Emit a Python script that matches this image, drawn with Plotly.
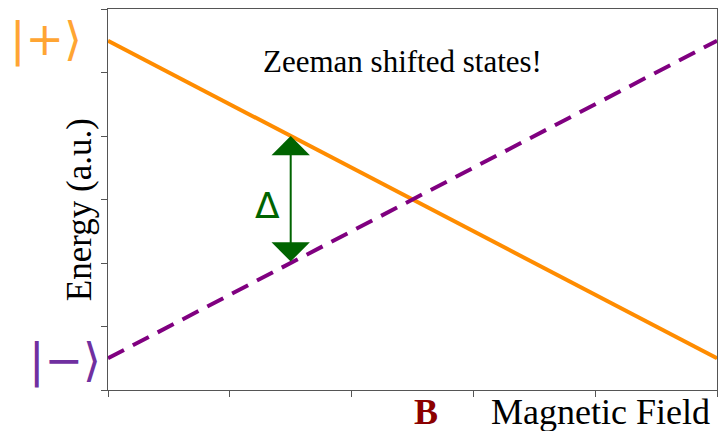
import plotly.graph_objects as go

# Field axis (arbitrary units) and the two Zeeman-shifted levels
field = [0, 5]
energy_plus = [5.5, 0.5]
energy_minus = [0.5, 5.5]

# Field value where the splitting is marked
field_delta = 1.5
delta_upper = 4.0
delta_lower = 2.0

x_ticks = [0, 1, 2, 3, 4, 5]
y_ticks = [0, 1, 2, 3, 4, 5, 6]

ORANGE = "#ff8c00"
PURPLE = "#800080"
GREEN = "#006400"
SERIF = "Liberation Serif, Times New Roman, serif"

fig = go.Figure()

fig.add_trace(go.Scatter(
    x=field, y=energy_plus, mode="lines",
    line=dict(color=ORANGE, width=4), hoverinfo="skip", showlegend=False,
))
fig.add_trace(go.Scatter(
    x=field, y=energy_minus, mode="lines",
    line=dict(color=PURPLE, width=4, dash="18px,10px"), hoverinfo="skip", showlegend=False,
))


def label(x, y, text, size, color, family=SERIF, ref="paper", angle=0):
    xr, yr = ("x", "y") if ref == "data" else ("paper", "paper")
    return dict(x=x, y=y, xref=xr, yref=yr, text=text, showarrow=False,
                xanchor="center", yanchor="middle", textangle=angle,
                font=dict(family=family, size=size, color=color))


annotations = [
    # double-headed splitting arrow
    dict(x=field_delta, y=delta_upper, ax=field_delta, ay=delta_lower,
         xref="x", yref="y", axref="x", ayref="y", text="",
         showarrow=True, arrowside="end+start",
         arrowhead=1, startarrowhead=1, arrowsize=3.2, startarrowsize=3.2,
         arrowwidth=2, arrowcolor=GREEN, standoff=0, startstandoff=0),
    label(1.31, 2.9, "Δ", 36, GREEN, family="DejaVu Sans", ref="data"),
    label(2.42, 5.18, "Zeeman shifted states!", 31, "black", ref="data"),
    label(0.808, -0.057, "Magnetic Field", 36, "black"),
    label(0.522, -0.057, "<b>B</b>", 36, "#8b0000"),
    label(-0.0476, 0.472, "Energy (a.u.)", 35, "black", angle=-90),
    label(-0.102, 0.919, "|+⟩", 46, "#ffa533", family="DejaVu Sans"),
    label(-0.0706, 0.0787, "|−⟩", 46, "#7030a0", family="DejaVu Sans"),
]

axis_style = dict(
    showgrid=False, zeroline=False, showticklabels=False,
    ticks="outside", ticklen=6, tickwidth=1.3, tickcolor="#555555",
    showline=True, linecolor="#555555", linewidth=1.3, mirror=True,
)

fig.update_layout(
    width=721, height=431,
    margin=dict(l=108, r=4, t=9, b=41),
    paper_bgcolor="white", plot_bgcolor="white",
    xaxis=dict(range=[0, 5], tickvals=x_ticks, **axis_style),
    yaxis=dict(range=[0, 6], tickvals=y_ticks, **axis_style),
    annotations=annotations,
    showlegend=False,
)

fig.write_html("out.html")
